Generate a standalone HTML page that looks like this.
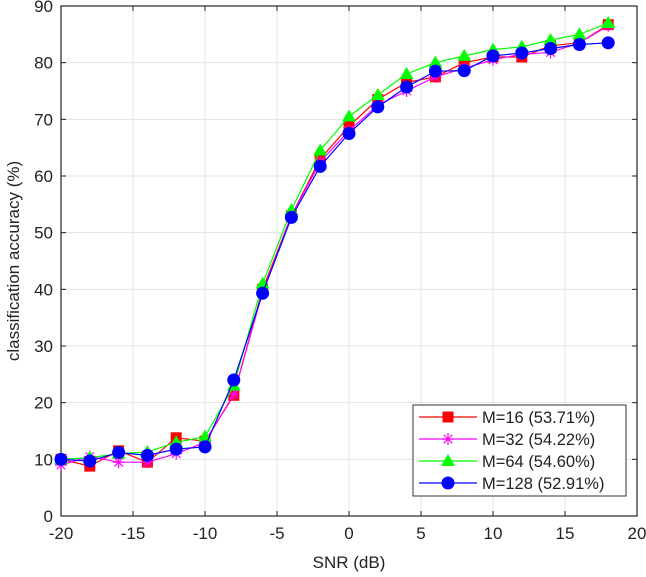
<!DOCTYPE html>
<html><head><meta charset="utf-8"><style>
body{margin:0;background:#fff;}
svg{display:block;font-family:"Liberation Sans",sans-serif;}
</style></head><body>
<svg id="chart" width="646" height="577"></svg>
<script>
const snr=[-20,-18,-16,-14,-12,-10,-8,-6,-4,-2,0,2,4,6,8,10,12,14,16,18];
const m16=[10,8.8,11.5,9.5,13.8,13.2,21.3,40,53,63,68.8,73.5,76.5,77.5,80,81,81,83,83.5,86.7];
const m32=[9,10.5,9.5,9.5,11,13,21.5,39.5,53,62.5,68,72.5,75,77.5,79,80.5,81.5,81.8,83.5,86.5];
const m64=[10,10.3,11,11.3,13,14,23,41,54,64.5,70.5,74.3,78,80,81.2,82.3,82.8,84,85,87];
const m128=[10,9.7,11.2,10.7,11.8,12.2,24,39.3,52.7,61.7,67.5,72.2,75.7,78.5,78.6,81.2,81.7,82.5,83.2,83.5];
const xTicks=[-20,-15,-10,-5,0,5,10,15,20];
const yTicks=[0,10,20,30,40,50,60,70,80,90];
const labels=["M=16 (53.71%)","M=32 (54.22%)","M=64 (54.60%)","M=128 (52.91%)"];

const NS="http://www.w3.org/2000/svg";
const svg=document.getElementById('chart');
const L=61,R=637,T=6,B=516;
const X=v=>L+(v+20)/40*(R-L);
const Y=v=>B-v/90*(B-T);
function el(tag,attrs,parent){const e=document.createElementNS(NS,tag);for(const k in attrs)e.setAttribute(k,attrs[k]);(parent||svg).appendChild(e);return e;}

xTicks.forEach(t=>{const g=el('line',{x1:X(t),x2:X(t),y1:T,y2:B,stroke:'#e3e3e3','stroke-width':1});

});
yTicks.forEach(t=>{const g=el('line',{x1:L,x2:R,y1:Y(t),y2:Y(t),stroke:'#e3e3e3','stroke-width':1});

});
xTicks.forEach(t=>{
 el('line',{x1:X(t),x2:X(t),y1:B,y2:B-5,stroke:'#222'});
 el('line',{x1:X(t),x2:X(t),y1:T,y2:T+5,stroke:'#222'});
 const tx=el('text',{x:X(t),y:B+23,'text-anchor':'middle','font-size':17,fill:'#222'});tx.textContent=t;
 
 
});
yTicks.forEach(t=>{
 el('line',{x1:L,x2:L+5,y1:Y(t),y2:Y(t),stroke:'#222'});
 el('line',{x1:R,x2:R-5,y1:Y(t),y2:Y(t),stroke:'#222'});
 const tx=el('text',{x:L-8,y:Y(t)+6,'text-anchor':'end','font-size':17,fill:'#222'});tx.textContent=t;
 
 
});
const box=el('rect',{x:L,y:T,width:R-L,height:B-T,fill:'none',stroke:'#222','stroke-width':1.2});


const xt=el('text',{x:(L+R)/2,y:568,'text-anchor':'middle','font-size':17,fill:'#222'});xt.textContent='SNR (dB)';


const yt=el('text',{x:0,y:0,'text-anchor':'middle','font-size':17,fill:'#222',transform:`translate(19,${(T+B)/2}) rotate(-90)`});yt.textContent='classification accuracy (%)';



function marker(kind,cx,cy,color,parent){
 if(kind==='sq')return el('rect',{x:cx-5.5,y:cy-5.5,width:11,height:11,fill:color},parent);
 if(kind==='tri')return el('polygon',{points:`${cx},${cy-7} ${cx-7},${cy+5} ${cx+7},${cy+5}`,fill:color},parent);
 if(kind==='circ')return el('circle',{cx:cx,cy:cy,r:6.5,fill:color},parent);
 const g=el('g',{stroke:color,'stroke-width':1.2},parent);
 for(let a=0;a<4;a++){const an=a*Math.PI/4;el('line',{x1:cx-6*Math.cos(an),y1:cy-6*Math.sin(an),x2:cx+6*Math.cos(an),y2:cy+6*Math.sin(an)},g);}
 return g;
}
const series=[[m16,'#ff0000','sq'],[m32,'#ff00ff','star'],[m64,'#00ff00','tri'],[m128,'#0000ff','circ']];
series.forEach((s,i)=>{
 const g=el('g',{});
 
 
 el('polyline',{points:s[0].map((v,j)=>X(snr[j])+','+Y(v)).join(' '),fill:'none',stroke:s[1],'stroke-width':1.2},g);
 s[0].forEach((v,j)=>{const m=marker(s[2],X(snr[j]),Y(v),s[1],g);
  
  });
});
const lg=el('g',{});


el('rect',{x:413,y:405,width:213,height:91,fill:'#fff',stroke:'#333','stroke-width':1},lg);
series.forEach((s,i)=>{
 const y=417+i*22;
 const e=el('g',{},lg);
 
 
 el('line',{x1:419,x2:477,y1:y,y2:y,stroke:s[1],'stroke-width':1.2},e);
 marker(s[2],448,y,s[1],e);
 const t=el('text',{x:482,y:y+6,'font-size':16.5,fill:'#222'},e);t.textContent=labels[i];
});
</script>
</body></html>
